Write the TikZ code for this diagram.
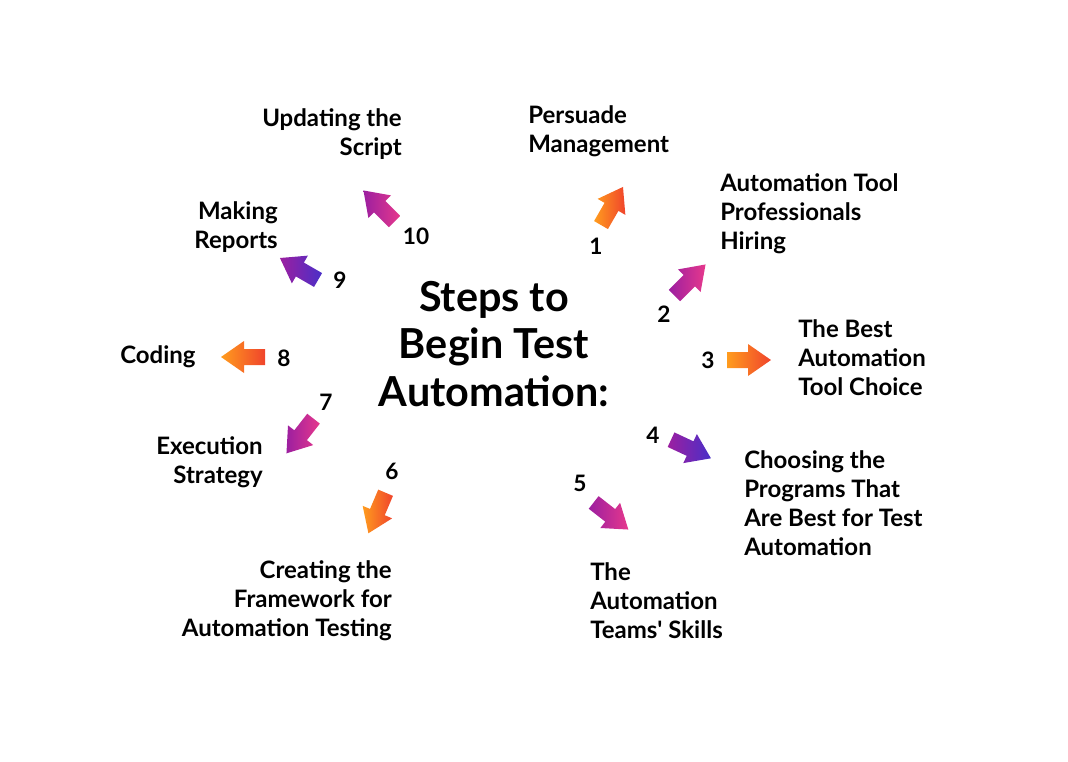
\documentclass[tikz,border=0pt]{standalone}
\usepackage{fontspec}
\setmainfont{Lato}
\definecolor{orgA}{HTML}{FF9C1E}
\definecolor{orgB}{HTML}{F0442C}
\definecolor{pnkA}{HTML}{E6388C}
\definecolor{prpA}{HTML}{9C1FA0}
\definecolor{bluA}{HTML}{4A2FC8}
\tikzset{
  lbl/.style={font=\fontsize{18pt}{21.75pt}\selectfont\bfseries, inner sep=0pt, text=black},
  num/.style={font=\fontsize{17pt}{20pt}\selectfont\bfseries, inner sep=0pt},
  ttl/.style={font=\fontsize{31pt}{35.5pt}\selectfont\bfseries, inner sep=0pt, align=center}
}
% block arrow: x, y, angle, tail colour, tip colour
\newcommand\steparrow[5]{%
  \begin{scope}[shift={(#1,#2)},rotate=#3]
    \shade[left color=#4,right color=#5]
      (-22,-8) -- (-1,-8) -- (-1,-16) -- (22,0) -- (-1,16) -- (-1,8) -- (-22,8) -- cycle;
  \end{scope}}
\begin{document}
\begin{tikzpicture}[x=0.75pt,y=-0.75pt]
\useasboundingbox (0,0) rectangle (1068,761);
\node[ttl] (title) at (494,344) {Steps to\\Begin Test\\Automation:};
%
\steparrow{612}{206}{60}{orgA}{orgB}
\steparrow{690}{280}{45}{prpA}{pnkA}
\steparrow{749}{360}{0}{orgA}{orgB}
\steparrow{691}{449}{-25}{prpA}{bluA}
\steparrow{611}{516}{-38}{prpA}{pnkA}
\steparrow{377}{513}{-113}{orgA}{orgB}
\steparrow{300}{436}{-128}{prpA}{pnkA}
\steparrow{243}{357}{180}{orgA}{orgB}
\steparrow{299}{269}{150}{prpA}{bluA}
\steparrow{379}{206}{135}{prpA}{pnkA}
%
\node[num] (n1) at (596,246) {1};
\node[num] (n2) at (664,314) {2};
\node[num] (n3) at (708,360) {3};
\node[num] (n4) at (653,435) {4};
\node[num] (n5) at (580,483) {5};
\node[num] (n6) at (392,471) {6};
\node[num] (n7) at (326,402) {7};
\node[num] (n8) at (284,358) {8};
\node[num] (n9) at (340,280) {9};
\node[num] (n10) at (416,236) {10};
%
\node[lbl,align=left,anchor=west] (s1) at (528,131) {Persuade\\Management};
\node[lbl,align=left,anchor=west] (s2) at (720,214) {Automation Tool\\Professionals\\Hiring};
\node[lbl,align=left,anchor=west] (s3) at (798,358) {The Best\\Automation\\Tool Choice};
\node[lbl,align=left,anchor=west] (s4) at (744,503) {Choosing the\\Programs That\\Are Best for Test\\Automation};
\node[lbl,align=left,anchor=west] (s5) at (590,601) {The\\Automation\\Teams\textquotesingle\ Skills};
\node[lbl,align=right,anchor=east] (s6) at (392,601) {Creating the\\Framework for\\Automation Testing};
\node[lbl,align=right,anchor=east] (s7) at (263,462) {Execution\\Strategy};
\node[lbl,anchor=west] (s8) at (120,357) {Coding};
\node[lbl,align=right,anchor=east] (s9) at (278,227) {Making\\Reports};
\node[lbl,align=right,anchor=east] (s10) at (402,134) {Updating the\\Script};
\end{tikzpicture}
\end{document}
